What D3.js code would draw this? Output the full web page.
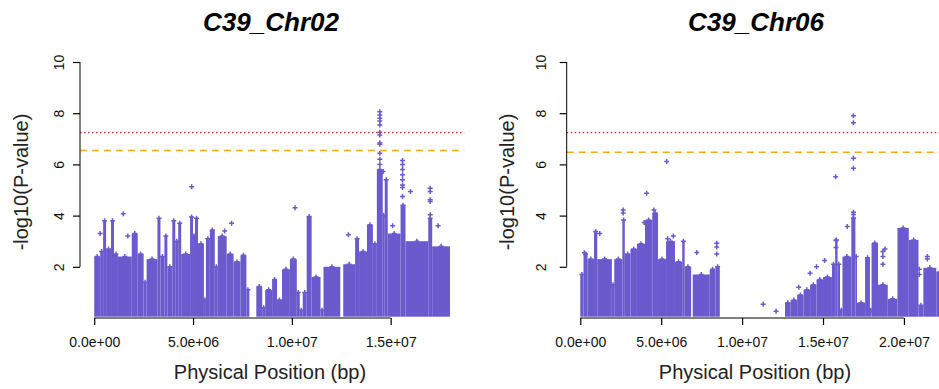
<!DOCTYPE html>
<html>
<head>
<meta charset="utf-8">
<script src="https://cdn.jsdelivr.net/npm/d3@7"></script>
<style>
  body { margin:0; background:#fff; }
  svg { display:block; font-family:"Liberation Sans", Arial, sans-serif; }
</style>
</head>
<body>
<svg width="939" height="389"></svg>
<script>
var width = 939;
var height = 389;

// tick values
var yTicks = [2, 4, 6, 8, 10];
var xTicks02 = [0, 5e6, 1e7, 1.5e7];
var xTicks06 = [0, 5e6, 1e7, 1.5e7, 2e7];

// C39_Chr02 : dense body, bin start (Mb) and top -log10(p)
var chr02Start = [0.00,0.30,0.45,0.60,0.85,1.00,1.20,1.90,2.20,2.50,2.65,3.20,3.35,3.55,3.70,3.95,4.10,4.25,4.40,4.85,5.00,5.10,5.25,5.55,5.65,5.85,6.10,6.25,6.70,7.05,7.40,7.70,7.85,8.20,8.50,8.65,9.00,9.25,9.50,9.90,10.25,10.40,10.55,10.75,11.00,11.45,11.60,12.45,12.60,13.20,13.40,13.80,14.10,14.30,14.60,14.70,14.85,15.50,15.75,16.90,17.10];
var chr02Top   = [2.4,2.6,3.8,2.7,3.8,2.5,2.4,3.3,2.5,1.4,2.3,3.9,2.4,3.2,2.0,3.8,3.0,3.7,2.5,3.95,3.2,3.9,2.9,0.7,3.1,3.44,2.0,3.2,2.5,2.2,2.45,1.1,0,1.23,0.4,1.1,1.5,0.7,1.9,2.3,1.0,0.3,1.0,3.96,1.6,0.3,2.0,0,2.1,3.1,2.6,3.64,2.9,5.8,4.0,5.4,3.3,4.4,3.0,3.9,2.8];
var chr02End = 18.0;
// C39_Chr02 : single SNPs above the body
var chr02PtPos = [0.30,1.47,1.70,4.93,6.60,6.95,10.16,12.86,
  14.45,14.45,14.45,14.45,14.45,14.45,14.45,14.45,14.45,14.45,14.45,14.45,
  14.62,15.10,15.60,15.60,15.60,15.60,15.60,15.60,15.60,15.60,16.00,
  17.00,17.00,17.00,17.00,17.00,17.40];
var chr02PtVal = [3.3,4.07,3.2,5.13,3.4,3.7,4.31,3.25,
  8.06,7.93,7.80,7.70,7.54,7.26,7.15,6.85,6.79,6.44,6.20,6.00,
  5.72,3.6,6.15,6.00,5.80,5.60,5.40,5.20,5.10,4.75,4.94,
  5.07,4.94,4.62,4.55,4.03,3.60];

// C39_Chr06
var chr06Start = [0.00,0.20,0.45,0.85,1.05,1.95,2.10,2.60,2.75,3.10,3.50,4.00,4.45,4.80,5.30,5.85,6.30,6.45,6.85,6.95,8.00,8.35,8.62,12.65,13.00,13.40,13.80,14.20,14.60,15.00,15.55,15.75,15.90,16.05,16.20,16.75,17.00,17.10,17.60,17.90,18.00,18.40,19.00,19.60,20.30,20.90,21.20,22.00];
var chr06Top   = [1.7,2.5,2.3,3.38,2.3,1.3,2.3,3.83,2.5,2.7,2.9,3.83,4.1,2.3,3.0,2.2,3.0,2.0,0,1.7,1.9,2.0,0,0.6,0.7,0.9,1.1,1.3,1.5,1.6,2.1,3.05,2.1,0.3,2.4,3.9,2.4,0.6,2.35,0.3,2.93,1.3,0.75,3.52,3.05,0.5,1.96,1.8];
var chr06End = 22.4;
var chr06PtPos = [0.25,1.20,2.65,2.65,3.95,4.10,4.55,5.34,5.40,5.75,7.20,8.43,8.43,8.43,11.30,12.10,13.50,14.20,14.60,15.10,
  15.78,15.80,15.80,16.50,16.88,16.88,16.88,16.88,16.88,16.88,16.88,
  18.70,18.70,18.70,18.83,20.95,20.95,21.45,21.45];
var chr06PtVal = [2.55,3.30,4.22,4.10,3.73,4.87,4.22,6.11,3.10,3.20,2.56,2.92,2.77,2.50,0.54,0.26,1.2,1.75,2.0,2.25,
  5.52,3.03,2.75,3.57,7.90,7.63,6.24,5.85,4.13,4.04,3.90,
  2.60,2.40,2.10,2.70,1.9,1.7,2.40,2.30];

// significance lines
var red02 = 7.24, orange02 = 6.54;
var red06 = 7.24, orange06 = 6.47;

var pointColor = "#6a5acd";

var svg = d3.select("svg");
svg.append("rect").attr("width", width).attr("height", height).attr("fill", "#fff");

function sci(v) {
  // R style 0.0e+00
  var s = d3.format(".1e")(v);
  var parts = s.split("e");
  var sign = parts[1].charAt(0);
  var ex = parts[1].slice(1);
  if (ex.length < 2) ex = "0" + ex;
  return parts[0] + "e" + sign + ex;
}

function panel(p) {
  var g = svg.append("g");

  var x = d3.scaleLinear().domain(p.xDomain).range([p.left, p.right]);
  var y = d3.scaleLinear().domain([0, 10]).range([318, 62]);

  // body
  var bins = p.start.map(function(s, i) {
    return { s: s, e: i < p.start.length - 1 ? p.start[i + 1] : p.end, v: p.top[i] };
  }).filter(function(d) { return d.v > 0; });

  g.append("g").selectAll("rect")
    .data(bins).enter()
    .append("rect")
    .attr("x", function(d) { return x(d.s * 1e6); })
    .attr("width", function(d) { return x(d.e * 1e6) - x(d.s * 1e6); })
    .attr("y", function(d) { return y(d.v); })
    .attr("height", function(d) { return y(0.05) - y(d.v); })
    .attr("fill", pointColor);

  // top of each bin drawn with the same + glyph
  var plus = "M-2.5,0H2.5M0,-2.5V2.5";
  g.append("g").selectAll("path")
    .data(bins).enter()
    .append("path")
    .attr("d", plus)
    .attr("transform", function(d) { return "translate(" + x((d.s + d.e) / 2 * 1e6) + "," + y(d.v) + ")"; })
    .attr("stroke", pointColor)
    .attr("stroke-width", 1.5)
    .attr("fill", "none");

  // single points
  g.append("g").selectAll("path")
    .data(p.ptPos.map(function(d, i) { return [d, p.ptVal[i]]; })).enter()
    .append("path")
    .attr("d", plus)
    .attr("transform", function(d) { return "translate(" + x(d[0] * 1e6) + "," + y(d[1]) + ")"; })
    .attr("stroke", pointColor)
    .attr("stroke-width", 1.5)
    .attr("fill", "none");

  // thresholds
  g.append("line")
    .attr("x1", p.left).attr("x2", p.right)
    .attr("y1", y(p.red)).attr("y2", y(p.red))
    .attr("stroke", "#c0392b").attr("stroke-width", 1.3)
    .attr("stroke-dasharray", "1.5,2.5");
  g.append("line")
    .attr("x1", p.left).attr("x2", p.right)
    .attr("y1", y(p.orange)).attr("y2", y(p.orange))
    .attr("stroke", "#f5a623").attr("stroke-width", 1.5)
    .attr("stroke-dasharray", "7,5");

  // x axis
  var xa = g.append("g").attr("transform", "translate(0,318)")
    .call(d3.axisBottom(x).tickValues(p.xTicks).tickSize(7).tickSizeOuter(0).tickFormat(sci));
  xa.select(".domain").remove();
  xa.append("line")
    .attr("x1", x(p.xTicks[0])).attr("x2", x(p.xTicks[p.xTicks.length - 1]))
    .attr("stroke", "#000");
  xa.selectAll(".tick line").attr("stroke", "#000").attr("stroke-width", 1.2);
  xa.selectAll(".tick text")
    .attr("y", 29).attr("dy", null)
    .attr("font-size", 14).attr("font-family", "Liberation Sans").attr("fill", "#111");

  // y axis
  var ya = g.append("g").attr("transform", "translate(" + p.left + ",0)")
    .call(d3.axisLeft(y).tickValues(yTicks).tickSize(7).tickSizeOuter(0));
  ya.select(".domain").remove();
  ya.append("line").attr("y1", y(2)).attr("y2", y(10)).attr("stroke", "#000");
  ya.selectAll(".tick line").attr("stroke", "#000").attr("stroke-width", 1.2);
  ya.selectAll(".tick text")
    .attr("x", null).attr("dy", null)
    .attr("transform", "translate(" + (p.tickLab - p.left) + ",0) rotate(-90)")
    .attr("text-anchor", "middle")
    .attr("font-size", 14).attr("font-family", "Liberation Sans").attr("fill", "#111");

  // labels
  g.append("text")
    .attr("x", p.titleX).attr("y", 31)
    .attr("text-anchor", "middle")
    .attr("font-size", 26).attr("font-weight", "bold").attr("font-style", "italic")
    .text(p.title);

  g.append("text")
    .attr("x", p.titleX - 1).attr("y", 379)
    .attr("text-anchor", "middle")
    .attr("font-size", 20).attr("fill", "#222")
    .text("Physical Position (bp)");

  g.append("text")
    .attr("transform", "translate(" + p.yLab + ",182) rotate(-90)")
    .attr("text-anchor", "middle")
    .attr("font-size", 20).attr("fill", "#222")
    .text("-log10(P-value)");
}

panel({
  title: "C39_Chr02", titleX: 271,
  left: 80, right: 464.2, xDomain: [-0.72e6, 18.72e6],
  start: chr02Start, top: chr02Top, end: chr02End,
  ptPos: chr02PtPos, ptVal: chr02PtVal,
  red: red02, orange: orange02, xTicks: xTicks02,
  tickLab: 64, yLab: 28
});

panel({
  title: "C39_Chr06", titleX: 756,
  left: 566.7, right: 946, xDomain: [-0.84e6, 22.6e6],
  start: chr06Start, top: chr06Top, end: chr06End,
  ptPos: chr06PtPos, ptVal: chr06PtVal,
  red: red06, orange: orange06, xTicks: xTicks06,
  tickLab: 546, yLab: 514
});
</script>
</body>
</html>
